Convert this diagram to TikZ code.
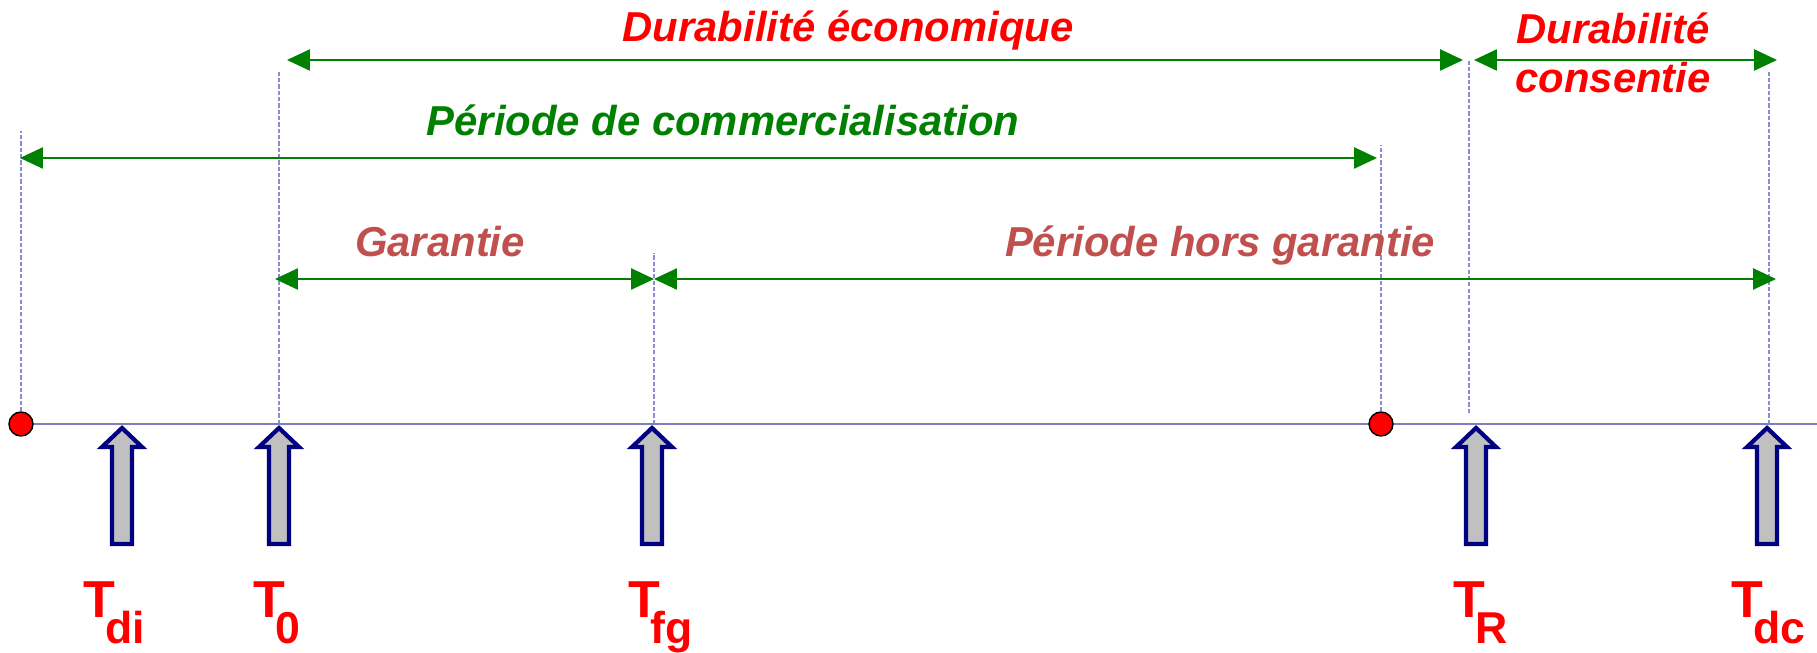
\documentclass[tikz,border=0pt]{standalone}
\usepackage{fontspec}
\setmainfont{Liberation Sans}
\usepackage{xcolor}
\usetikzlibrary{arrows.meta, positioning, calc}

\definecolor{dimgreen}{HTML}{008000}
\definecolor{axisblue}{HTML}{7F7FBF}
\definecolor{guideblue}{HTML}{8C8CD0}
\definecolor{garred}{HTML}{C0504D}
\definecolor{arrnavy}{HTML}{000080}
\definecolor{arrgray}{HTML}{C0C0C0}

% subscript of the time labels
\newcommand{\tsub}[1]{\kern-2.8pt\raisebox{-7.6pt}{\fontsize{12.7}{14}\selectfont #1}}

\begin{document}
\begin{tikzpicture}[
    dim/.style={draw=dimgreen, line width=0.5pt,
        {Triangle[length=6.5pt,width=6pt]}-{Triangle[length=6.5pt,width=6pt]}},
    guide/.style={draw=guideblue, line width=0.35pt, dash pattern=on 1.2pt off 0.6pt},
    axisline/.style={draw=axisblue, line width=0.6pt},
    lbl/.style={font=\fontsize{11.9}{14.2}\selectfont\bfseries\itshape, inner sep=0pt, anchor=base},
    tlbl/.style={font=\fontsize{14.8}{16}\selectfont\bfseries, text=red, inner sep=0pt, anchor=base west},
    reddot/.style={circle, fill=red, draw=black, line width=0.4pt, minimum size=0.24cm, inner sep=0pt}
]
\useasboundingbox (0,-2.29) rectangle (18.17,4.24);

% ==========================================
% 1. Block arrow (points up to the axis)
% ==========================================
\tikzset{
    timearrow/.pic={
        \draw[draw=arrnavy, fill=arrgray, line width=1.2pt]
            (0,-0.04) -- (0.20,-0.23) -- (0.10,-0.23) -- (0.10,-1.20)
            -- (-0.10,-1.20) -- (-0.10,-0.23) -- (-0.20,-0.23) -- cycle;
    }
}

% ==========================================
% 2. Time points and guide lines
% ==========================================
\coordinate (pStart) at (0.21,0);
\coordinate (pT0)    at (2.79,0);
\coordinate (pTfg)   at (6.54,0);
\coordinate (pEnd)   at (13.81,0);
\coordinate (pTR)    at (14.69,0.11);
\coordinate (pTdc)   at (17.69,0);
\coordinate (axisEnd) at (18.17,0);

\foreach \p/\h in {pStart/2.93, pT0/3.54, pTfg/1.71, pEnd/2.79, pTR/3.53, pTdc/3.54} {
    \draw[guide] (\p) -- ++(0,\h);
}

% Axis with start / end of commercialisation
\draw[axisline] (pStart) -- (axisEnd);
\node[reddot] (dotStart) at (pStart) {};
\node[reddot] (dotEnd) at (pEnd) {};

% ==========================================
% 3. Periods (green dimension arrows)
% ==========================================
\coordinate (ecoL)  at (2.87,3.64);
\coordinate (ecoR)  at (14.63,3.64);
\coordinate (consL) at (14.74,3.64);
\coordinate (consR) at (17.77,3.64);
\coordinate (comL)  at (0.20,2.66);
\coordinate (comR)  at (13.77,2.66);
\coordinate (garL)  at (2.75,1.45);
\coordinate (garR)  at (6.54,1.45);
\coordinate (horsR) at (17.76,1.45);

\draw[dim] (ecoL) -- (ecoR);
\draw[dim] (consL) -- (consR);
\draw[dim] (comL) -- (comR);
\draw[dim] (garL) -- (garR);
\draw[dim] (garR) -- (horsR);

\node[lbl, text=red] (ecoTxt) at (8.48,3.82) {Durabilité économique};
\node[lbl, text=red, align=center] (consTxt) at (16.13,3.31) {Durabilité\\consentie};
\node[lbl, text=dimgreen] (comTxt) at (7.23,2.88) {Période de commercialisation};
\node[lbl, text=garred] (garTxt) at (4.40,1.67) {Garantie};
\node[lbl, text=garred] (horsTxt) at (12.20,1.67) {Période hors garantie};

% ==========================================
% 4. Events below the axis
% ==========================================
\pic at (1.22,0)  {timearrow};
\pic at (2.79,0)  {timearrow};
\pic at (6.52,0)  {timearrow};
\pic at (14.76,0) {timearrow};
\pic at (17.67,0) {timearrow};

\node[tlbl] (labDi)  at (0.83,-1.93)  {T\tsub{di}};
\node[tlbl] (labT0)  at (2.53,-1.93)  {T\tsub{0}};
\node[tlbl] (labTfg) at (6.28,-1.93)  {T\tsub{fg}};
\node[tlbl] (labTR)  at (14.53,-1.93) {T\tsub{R}};
\node[tlbl] (labTdc) at (17.31,-1.93) {T\tsub{dc}};

\end{tikzpicture}
\end{document}
